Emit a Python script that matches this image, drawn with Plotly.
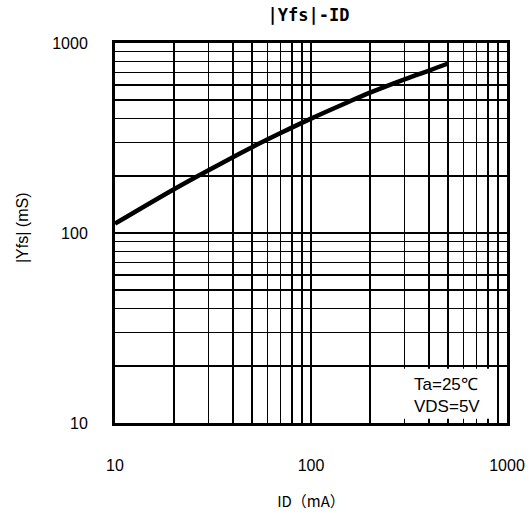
import plotly.graph_objects as go

# Data
id_ma = [10, 20, 30, 50, 70, 100, 150, 200, 300, 400, 500]
yfs_ms = [112, 170, 214, 283, 336, 400, 482, 548, 644, 716, 780]

major_ticks = [10, 100, 1000]
major_labels = ["10", "100", "1000"]
minor_ticks = [20, 30, 40, 50, 60, 70, 80, 90, 200, 300, 400, 500, 600, 700, 800, 900]

title_text = "|Yfs|-ID"
x_title = "ID（mA）"
y_title = "|Yfs| (mS)"
note_text = "Ta=25℃<br>VDS=5V"

fig = go.Figure()
fig.add_trace(go.Scatter(
    x=id_ma, y=yfs_ms, mode="lines",
    line=dict(color="black", width=4.5, shape="spline", smoothing=1.0),
    showlegend=False, hoverinfo="skip",
))

axis_common = dict(
    type="log",
    tickvals=major_ticks,
    ticktext=major_labels,
    showgrid=True, gridcolor="black", gridwidth=1.5,
    minor=dict(tickvals=minor_ticks, showgrid=True, gridcolor="black", gridwidth=1.5, ticks=""),
    showline=True, linecolor="black", linewidth=3, mirror=True,
    ticks="", zeroline=False,
    tickfont=dict(family="Liberation Sans, Arial, sans-serif", size=16, color="black"),
)

fig.update_xaxes(
    **axis_common,
    range=[1, 3],
    ticklabelstandoff=26,
    title=dict(text=x_title, standoff=24,
               font=dict(family="Noto Sans CJK JP", size=15, color="black")),
)
fig.update_yaxes(
    **axis_common,
    range=[1, 3],
    ticklabelstandoff=21,
)

# y-axis title
fig.add_annotation(text=y_title, xref="paper", yref="paper",
                   x=0, y=0.513, xanchor="center", yanchor="middle",
                   xshift=-93, textangle=-90, showarrow=False,
                   font=dict(family="Liberation Sans, Arial, sans-serif", size=16, color="black"))

fig.add_shape(type="rect", xref="paper", yref="paper",
              x0=0.737, x1=0.972, y0=0.011, y1=0.143,
              fillcolor="white", line=dict(width=0), layer="above")

fig.add_annotation(text=note_text, xref="paper", yref="paper",
                   x=0.847, y=0.072, xanchor="center", yanchor="middle",
                   showarrow=False, align="left",
                   font=dict(family="Liberation Sans, Arial, sans-serif", size=17, color="black"))

fig.update_layout(
    width=531, height=515,
    margin=dict(l=115, r=24, t=43, b=92, autoexpand=False),
    paper_bgcolor="white", plot_bgcolor="white",
    title=dict(text="<b>" + title_text + "</b>", x=0.581, xanchor="center", y=0.982, yanchor="top",
               font=dict(family="DejaVu Sans Mono", size=17, color="black")),
)

# remove the page's default body margin so the figure fills the window exactly
fig.write_html("out.html",
               config={"displayModeBar": False, "staticPlot": True},
               post_script="document.body.style.margin='0';document.body.style.overflow='hidden';")
